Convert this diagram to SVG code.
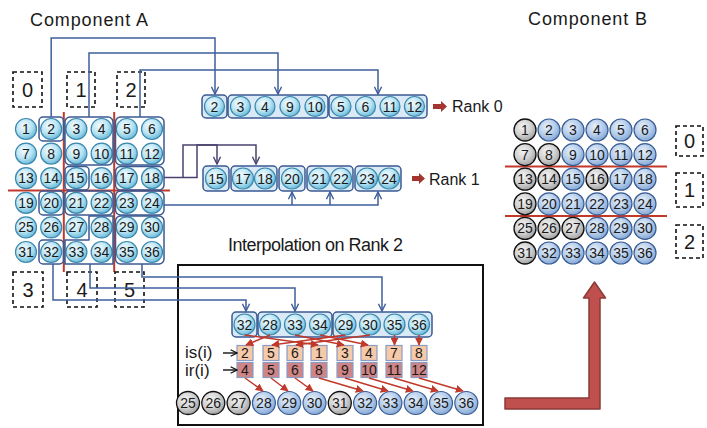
<svg xmlns="http://www.w3.org/2000/svg" width="707" height="428" viewBox="0 0 707 428">
<defs>
<radialGradient id="gA" cx="40%" cy="35%" r="70%"><stop offset="0" stop-color="#f4fcff"/><stop offset="0.55" stop-color="#b9e4f3"/><stop offset="1" stop-color="#5db4d5"/></radialGradient>
<radialGradient id="gB" cx="40%" cy="35%" r="70%"><stop offset="0" stop-color="#e8f0fa"/><stop offset="0.55" stop-color="#b5cdea"/><stop offset="1" stop-color="#7fa3d3"/></radialGradient>
<radialGradient id="gG" cx="40%" cy="35%" r="70%"><stop offset="0" stop-color="#f4f4f4"/><stop offset="0.55" stop-color="#d0d0d0"/><stop offset="1" stop-color="#9c9c9c"/></radialGradient>
<marker id="ab" viewBox="0 0 10 10" refX="9" refY="5" markerWidth="9" markerHeight="9" markerUnits="userSpaceOnUse" orient="auto"><path d="M1,1 L9,5 L1,9" fill="none" stroke="#3f5f9b" stroke-width="1.6"/></marker>
<marker id="ap" viewBox="0 0 10 10" refX="9" refY="5" markerWidth="9" markerHeight="9" markerUnits="userSpaceOnUse" orient="auto"><path d="M1,1 L9,5 L1,9" fill="none" stroke="#4a416f" stroke-width="1.6"/></marker>
<marker id="ar" viewBox="0 0 10 10" refX="9" refY="5" markerWidth="8" markerHeight="8" markerUnits="userSpaceOnUse" orient="auto"><path d="M0,0 L10,5 L0,10 z" fill="#c0392b"/></marker>
<marker id="ak" viewBox="0 0 10 10" refX="9" refY="5" markerWidth="8" markerHeight="8" markerUnits="userSpaceOnUse" orient="auto"><path d="M1,1 L9,5 L1,9" fill="none" stroke="#111" stroke-width="1.5"/></marker>
</defs>
<style>
text{font-family:"Liberation Sans",Arial,sans-serif;fill:#1a1a1a}
.title{font-size:18px}
.n text{font-size:14px;text-anchor:middle;dominant-baseline:central}
.na circle{fill:url(#gA);stroke:#3b87ad;stroke-width:1.2}
.nb circle{fill:url(#gB);stroke:#3a5d95;stroke-width:1.2}
.ng circle{fill:url(#gG);stroke:#111;stroke-width:1.3}
.grp{fill:none;stroke:#3a5a92;stroke-width:1.5}
.rgrp{fill:#d9e9f5;stroke:#3a5a92;stroke-width:1.5}
.dash{fill:none;stroke:#111;stroke-width:1.6;stroke-dasharray:4 3}
.dl{font-size:20px;text-anchor:middle;dominant-baseline:central}
.red{stroke:#c0392b;stroke-width:2;fill:none}
.cb{fill:none;stroke:#3f5f9b;stroke-width:1.5;marker-end:url(#ab)}
.cp{fill:none;stroke:#4a416f;stroke-width:1.5}
.cr{fill:none;stroke:#c0392b;stroke-width:1.5;marker-end:url(#ar)}
.sq text{font-size:14px;text-anchor:middle;dominant-baseline:central}
.is rect{fill:#f6c9a8;stroke:#8a9cc4;stroke-width:1.2}
.ir rect{fill:#cf8585;stroke:#8a9cc4;stroke-width:1.2}
</style>
<rect width="707" height="428" fill="#fff"/>

<!-- titles -->
<text class="title" x="30" y="26" textLength="118">Component A</text>
<text class="title" x="528" y="25" textLength="119">Component B</text>
<text class="title" x="228" y="251" textLength="175">Interpolation on Rank 2</text>

<!-- Component A decomposition -->
<g id="decompA">
<line class="red" x1="63.8" y1="112" x2="63.8" y2="272"/>
<line class="red" x1="114.2" y1="112" x2="114.2" y2="272"/>
<line class="red" x1="8" y1="190.5" x2="170" y2="190.5"/>
</g>
<g id="rA0"><rect class="dash" x="13" y="72" width="29" height="35"/><text class="dl" x="27.5" y="90">0</text></g>
<g id="rA1"><rect class="dash" x="67" y="72" width="28" height="35"/><text class="dl" x="81" y="90">1</text></g>
<g id="rA2"><rect class="dash" x="117" y="72" width="28" height="35"/><text class="dl" x="131" y="90">2</text></g>
<g id="rA3"><rect class="dash" x="13" y="272" width="30" height="35"/><text class="dl" x="28" y="290">3</text></g>
<g id="rA4"><rect class="dash" x="67" y="272" width="30" height="35"/><text class="dl" x="82" y="290">4</text></g>
<g id="rA5"><rect class="dash" x="115" y="272" width="29" height="35"/><text class="dl" x="129.5" y="290">5</text></g>

<!-- Component A circles -->
<g id="A1" class="n na"><circle cx="26" cy="129" r="10.5"/><text x="26" y="129">1</text></g>
<g id="A2" class="n na"><circle cx="51.2" cy="129" r="10.5"/><text x="51.2" y="129">2</text></g>
<g id="A3" class="n na"><circle cx="76.4" cy="129" r="10.5"/><text x="76.4" y="129">3</text></g>
<g id="A4" class="n na"><circle cx="101.6" cy="129" r="10.5"/><text x="101.6" y="129">4</text></g>
<g id="A5" class="n na"><circle cx="126.8" cy="129" r="10.5"/><text x="126.8" y="129">5</text></g>
<g id="A6" class="n na"><circle cx="152" cy="129" r="10.5"/><text x="152" y="129">6</text></g>
<g id="A7" class="n na"><circle cx="26" cy="153.6" r="10.5"/><text x="26" y="153.6">7</text></g>
<g id="A8" class="n na"><circle cx="51.2" cy="153.6" r="10.5"/><text x="51.2" y="153.6">8</text></g>
<g id="A9" class="n na"><circle cx="76.4" cy="153.6" r="10.5"/><text x="76.4" y="153.6">9</text></g>
<g id="A10" class="n na"><circle cx="101.6" cy="153.6" r="10.5"/><text x="101.6" y="153.6">10</text></g>
<g id="A11" class="n na"><circle cx="126.8" cy="153.6" r="10.5"/><text x="126.8" y="153.6">11</text></g>
<g id="A12" class="n na"><circle cx="152" cy="153.6" r="10.5"/><text x="152" y="153.6">12</text></g>
<g id="A13" class="n na"><circle cx="26" cy="178.2" r="10.5"/><text x="26" y="178.2">13</text></g>
<g id="A14" class="n na"><circle cx="51.2" cy="178.2" r="10.5"/><text x="51.2" y="178.2">14</text></g>
<g id="A15" class="n na"><circle cx="76.4" cy="178.2" r="10.5"/><text x="76.4" y="178.2">15</text></g>
<g id="A16" class="n na"><circle cx="101.6" cy="178.2" r="10.5"/><text x="101.6" y="178.2">16</text></g>
<g id="A17" class="n na"><circle cx="126.8" cy="178.2" r="10.5"/><text x="126.8" y="178.2">17</text></g>
<g id="A18" class="n na"><circle cx="152" cy="178.2" r="10.5"/><text x="152" y="178.2">18</text></g>
<g id="A19" class="n na"><circle cx="26" cy="202.8" r="10.5"/><text x="26" y="202.8">19</text></g>
<g id="A20" class="n na"><circle cx="51.2" cy="202.8" r="10.5"/><text x="51.2" y="202.8">20</text></g>
<g id="A21" class="n na"><circle cx="76.4" cy="202.8" r="10.5"/><text x="76.4" y="202.8">21</text></g>
<g id="A22" class="n na"><circle cx="101.6" cy="202.8" r="10.5"/><text x="101.6" y="202.8">22</text></g>
<g id="A23" class="n na"><circle cx="126.8" cy="202.8" r="10.5"/><text x="126.8" y="202.8">23</text></g>
<g id="A24" class="n na"><circle cx="152" cy="202.8" r="10.5"/><text x="152" y="202.8">24</text></g>
<g id="A25" class="n na"><circle cx="26" cy="227.4" r="10.5"/><text x="26" y="227.4">25</text></g>
<g id="A26" class="n na"><circle cx="51.2" cy="227.4" r="10.5"/><text x="51.2" y="227.4">26</text></g>
<g id="A27" class="n na"><circle cx="76.4" cy="227.4" r="10.5"/><text x="76.4" y="227.4">27</text></g>
<g id="A28" class="n na"><circle cx="101.6" cy="227.4" r="10.5"/><text x="101.6" y="227.4">28</text></g>
<g id="A29" class="n na"><circle cx="126.8" cy="227.4" r="10.5"/><text x="126.8" y="227.4">29</text></g>
<g id="A30" class="n na"><circle cx="152" cy="227.4" r="10.5"/><text x="152" y="227.4">30</text></g>
<g id="A31" class="n na"><circle cx="26" cy="252" r="10.5"/><text x="26" y="252">31</text></g>
<g id="A32" class="n na"><circle cx="51.2" cy="252" r="10.5"/><text x="51.2" y="252">32</text></g>
<g id="A33" class="n na"><circle cx="76.4" cy="252" r="10.5"/><text x="76.4" y="252">33</text></g>
<g id="A34" class="n na"><circle cx="101.6" cy="252" r="10.5"/><text x="101.6" y="252">34</text></g>
<g id="A35" class="n na"><circle cx="126.8" cy="252" r="10.5"/><text x="126.8" y="252">35</text></g>
<g id="A36" class="n na"><circle cx="152" cy="252" r="10.5"/><text x="152" y="252">36</text></g>

<!-- Component A send groups -->
<g id="sendGroupsA">
<rect class="grp" x="39" y="117" width="24.5" height="24" rx="4"/>
<rect class="grp" x="65" y="117" width="48" height="48" rx="5"/>
<rect class="grp" x="115.5" y="117" width="48.5" height="48" rx="5"/>
<rect class="grp" x="65" y="166.5" width="24" height="23.5" rx="4"/>
<rect class="grp" x="115.5" y="166.5" width="48.5" height="23.5" rx="5"/>
<rect class="grp" x="39" y="191" width="24.5" height="24" rx="4"/>
<rect class="grp" x="65" y="191" width="48" height="24" rx="5"/>
<rect class="grp" x="115.5" y="191" width="48.5" height="24" rx="5"/>
<path class="grp" d="M89,216 H113 V264 H65 V240 H89 Z" stroke-linejoin="round"/>
<rect class="grp" x="115.5" y="216" width="48.5" height="48" rx="5"/>
<rect class="grp" x="39" y="240" width="24.5" height="24" rx="4"/>
</g>

<!-- Rank 0 row -->
<g id="rank0">
<rect class="rgrp" x="202" y="95" width="25" height="23" rx="4"/>
<rect class="rgrp" x="228" y="95" width="100" height="23" rx="4"/>
<rect class="rgrp" x="329" y="95" width="98" height="23" rx="4"/>
</g>
<g id="R0_2" class="n na"><circle cx="214.5" cy="106.5" r="10"/><text x="214.5" y="106.5">2</text></g>
<g id="R0_3" class="n na"><circle cx="240.5" cy="106.5" r="10"/><text x="240.5" y="106.5">3</text></g>
<g id="R0_4" class="n na"><circle cx="265" cy="106.5" r="10"/><text x="265" y="106.5">4</text></g>
<g id="R0_9" class="n na"><circle cx="290" cy="106.5" r="10"/><text x="290" y="106.5">9</text></g>
<g id="R0_10" class="n na"><circle cx="315" cy="106.5" r="10"/><text x="315" y="106.5">10</text></g>
<g id="R0_5" class="n na"><circle cx="341" cy="106.5" r="10"/><text x="341" y="106.5">5</text></g>
<g id="R0_6" class="n na"><circle cx="365.5" cy="106.5" r="10"/><text x="365.5" y="106.5">6</text></g>
<g id="R0_11" class="n na"><circle cx="390" cy="106.5" r="10"/><text x="390" y="106.5">11</text></g>
<g id="R0_12" class="n na"><circle cx="414.5" cy="106.5" r="10"/><text x="414.5" y="106.5">12</text></g>
<g id="lab0"><polygon points="433,104 441,104 441,101 447,106.5 441,112 441,109 433,109" fill="#a3352e"/><text x="452" y="112" font-size="16">Rank 0</text></g>

<!-- Rank 1 row -->
<g id="rank1">
<rect class="rgrp" x="203" y="166" width="26" height="25" rx="4"/>
<rect class="rgrp" x="231" y="166" width="46" height="25" rx="4"/>
<rect class="rgrp" x="279" y="166" width="26" height="25" rx="4"/>
<rect class="rgrp" x="307" y="166" width="46" height="25" rx="4"/>
<rect class="rgrp" x="355" y="166" width="46" height="25" rx="4"/>
</g>
<g id="R1_15" class="n na"><circle cx="216" cy="178.5" r="10.5"/><text x="216" y="178.5">15</text></g>
<g id="R1_17" class="n na"><circle cx="243" cy="178.5" r="10.5"/><text x="243" y="178.5">17</text></g>
<g id="R1_18" class="n na"><circle cx="265" cy="178.5" r="10.5"/><text x="265" y="178.5">18</text></g>
<g id="R1_20" class="n na"><circle cx="292" cy="178.5" r="10.5"/><text x="292" y="178.5">20</text></g>
<g id="R1_21" class="n na"><circle cx="319" cy="178.5" r="10.5"/><text x="319" y="178.5">21</text></g>
<g id="R1_22" class="n na"><circle cx="341" cy="178.5" r="10.5"/><text x="341" y="178.5">22</text></g>
<g id="R1_23" class="n na"><circle cx="367" cy="178.5" r="10.5"/><text x="367" y="178.5">23</text></g>
<g id="R1_24" class="n na"><circle cx="389" cy="178.5" r="10.5"/><text x="389" y="178.5">24</text></g>
<g id="lab1"><polygon points="412,176 419,176 419,173 425,178.5 419,184 419,181 412,181" fill="#a3352e"/><text x="429" y="185" font-size="16">Rank 1</text></g>

<!-- Interpolation box -->
<g id="interpBox"><rect x="178" y="265" width="305" height="160" fill="none" stroke="#111" stroke-width="2"/></g>

<!-- Rank 2 row -->
<g id="rank2">
<rect class="rgrp" x="232" y="312" width="25" height="25" rx="4"/>
<rect class="rgrp" x="258" y="312" width="74" height="25" rx="4"/>
<rect class="rgrp" x="333" y="312" width="99" height="25" rx="4"/>
</g>
<g id="R2_32" class="n na"><circle cx="244.5" cy="324.5" r="10.5"/><text x="244.5" y="324.5">32</text></g>
<g id="R2_28" class="n na"><circle cx="270" cy="324.5" r="10.5"/><text x="270" y="324.5">28</text></g>
<g id="R2_33" class="n na"><circle cx="295" cy="324.5" r="10.5"/><text x="295" y="324.5">33</text></g>
<g id="R2_34" class="n na"><circle cx="320" cy="324.5" r="10.5"/><text x="320" y="324.5">34</text></g>
<g id="R2_29" class="n na"><circle cx="345.5" cy="324.5" r="10.5"/><text x="345.5" y="324.5">29</text></g>
<g id="R2_30" class="n na"><circle cx="370" cy="324.5" r="10.5"/><text x="370" y="324.5">30</text></g>
<g id="R2_35" class="n na"><circle cx="394.5" cy="324.5" r="10.5"/><text x="394.5" y="324.5">35</text></g>
<g id="R2_36" class="n na"><circle cx="419" cy="324.5" r="10.5"/><text x="419" y="324.5">36</text></g>

<!-- is / ir -->
<g id="labIs"><text x="185" y="358" font-size="17">is(i)</text></g>
<g id="labIr"><text x="185" y="376" font-size="17">ir(i)</text></g>
<g id="isRow" class="sq is">
<rect x="237" y="345.5" width="16" height="15"/><text x="245" y="353">2</text>
<rect x="263" y="345.5" width="16" height="15"/><text x="271" y="353">5</text>
<rect x="287" y="345.5" width="16" height="15"/><text x="295" y="353">6</text>
<rect x="311" y="345.5" width="16" height="15"/><text x="319" y="353">1</text>
<rect x="337" y="345.5" width="16" height="15"/><text x="345" y="353">3</text>
<rect x="361" y="345.5" width="16" height="15"/><text x="369" y="353">4</text>
<rect x="386" y="345.5" width="16" height="15"/><text x="394" y="353">7</text>
<rect x="411" y="345.5" width="16" height="15"/><text x="419" y="353">8</text>
</g>
<g id="irRow" class="sq ir">
<rect x="237" y="362.5" width="16" height="15"/><text x="245" y="370">4</text>
<rect x="263" y="362.5" width="16" height="15"/><text x="271" y="370">5</text>
<rect x="287" y="362.5" width="16" height="15"/><text x="295" y="370">6</text>
<rect x="311" y="362.5" width="16" height="15"/><text x="319" y="370">8</text>
<rect x="337" y="362.5" width="16" height="15"/><text x="345" y="370">9</text>
<rect x="361" y="362.5" width="16" height="15"/><text x="369" y="370">10</text>
<rect x="386" y="362.5" width="16" height="15"/><text x="394" y="370">11</text>
<rect x="411" y="362.5" width="16" height="15"/><text x="419" y="370">12</text>
</g>

<!-- bottom row of Component B rank 2 -->
<g id="P25" class="n ng"><circle cx="188" cy="403" r="11.5"/><text x="188" y="403">25</text></g>
<g id="P26" class="n ng"><circle cx="213.3" cy="403" r="11.5"/><text x="213.3" y="403">26</text></g>
<g id="P27" class="n ng"><circle cx="238.6" cy="403" r="11.5"/><text x="238.6" y="403">27</text></g>
<g id="P28" class="n nb"><circle cx="263.9" cy="403" r="11.5"/><text x="263.9" y="403">28</text></g>
<g id="P29" class="n nb"><circle cx="289.2" cy="403" r="11.5"/><text x="289.2" y="403">29</text></g>
<g id="P30" class="n nb"><circle cx="314.5" cy="403" r="11.5"/><text x="314.5" y="403">30</text></g>
<g id="P31" class="n ng"><circle cx="339.8" cy="403" r="11.5"/><text x="339.8" y="403">31</text></g>
<g id="P32" class="n nb"><circle cx="365.1" cy="403" r="11.5"/><text x="365.1" y="403">32</text></g>
<g id="P33" class="n nb"><circle cx="390.4" cy="403" r="11.5"/><text x="390.4" y="403">33</text></g>
<g id="P34" class="n nb"><circle cx="415.7" cy="403" r="11.5"/><text x="415.7" y="403">34</text></g>
<g id="P35" class="n nb"><circle cx="441" cy="403" r="11.5"/><text x="441" y="403">35</text></g>
<g id="P36" class="n nb"><circle cx="466.3" cy="403" r="11.5"/><text x="466.3" y="403">36</text></g>

<!-- Component B -->
<g id="decompB">
<line class="red" x1="505" y1="166.5" x2="667" y2="166.5"/>
<line class="red" x1="505" y1="216" x2="667" y2="216"/>
</g>
<g id="rB0"><rect class="dash" x="676" y="126" width="27" height="30"/><text class="dl" x="689.5" y="141">0</text></g>
<g id="rB1"><rect class="dash" x="676" y="173" width="27" height="34"/><text class="dl" x="689.5" y="190">1</text></g>
<g id="rB2"><rect class="dash" x="676" y="225" width="27" height="33"/><text class="dl" x="689.5" y="241.5">2</text></g>

<g id="B1" class="n ng"><circle cx="525" cy="130" r="11"/><text x="525" y="130">1</text></g>
<g id="B2" class="n nb"><circle cx="549" cy="130" r="11"/><text x="549" y="130">2</text></g>
<g id="B3" class="n nb"><circle cx="573" cy="130" r="11"/><text x="573" y="130">3</text></g>
<g id="B4" class="n nb"><circle cx="597" cy="130" r="11"/><text x="597" y="130">4</text></g>
<g id="B5" class="n nb"><circle cx="621" cy="130" r="11"/><text x="621" y="130">5</text></g>
<g id="B6" class="n nb"><circle cx="645" cy="130" r="11"/><text x="645" y="130">6</text></g>
<g id="B7" class="n ng"><circle cx="525" cy="154.6" r="11"/><text x="525" y="154.6">7</text></g>
<g id="B8" class="n ng"><circle cx="549" cy="154.6" r="11"/><text x="549" y="154.6">8</text></g>
<g id="B9" class="n nb"><circle cx="573" cy="154.6" r="11"/><text x="573" y="154.6">9</text></g>
<g id="B10" class="n nb"><circle cx="597" cy="154.6" r="11"/><text x="597" y="154.6">10</text></g>
<g id="B11" class="n nb"><circle cx="621" cy="154.6" r="11"/><text x="621" y="154.6">11</text></g>
<g id="B12" class="n nb"><circle cx="645" cy="154.6" r="11"/><text x="645" y="154.6">12</text></g>
<g id="B13" class="n ng"><circle cx="525" cy="179.2" r="11"/><text x="525" y="179.2">13</text></g>
<g id="B14" class="n ng"><circle cx="549" cy="179.2" r="11"/><text x="549" y="179.2">14</text></g>
<g id="B15" class="n nb"><circle cx="573" cy="179.2" r="11"/><text x="573" y="179.2">15</text></g>
<g id="B16" class="n ng"><circle cx="597" cy="179.2" r="11"/><text x="597" y="179.2">16</text></g>
<g id="B17" class="n nb"><circle cx="621" cy="179.2" r="11"/><text x="621" y="179.2">17</text></g>
<g id="B18" class="n nb"><circle cx="645" cy="179.2" r="11"/><text x="645" y="179.2">18</text></g>
<g id="B19" class="n ng"><circle cx="525" cy="203.8" r="11"/><text x="525" y="203.8">19</text></g>
<g id="B20" class="n nb"><circle cx="549" cy="203.8" r="11"/><text x="549" y="203.8">20</text></g>
<g id="B21" class="n nb"><circle cx="573" cy="203.8" r="11"/><text x="573" y="203.8">21</text></g>
<g id="B22" class="n nb"><circle cx="597" cy="203.8" r="11"/><text x="597" y="203.8">22</text></g>
<g id="B23" class="n nb"><circle cx="621" cy="203.8" r="11"/><text x="621" y="203.8">23</text></g>
<g id="B24" class="n nb"><circle cx="645" cy="203.8" r="11"/><text x="645" y="203.8">24</text></g>
<g id="B25" class="n ng"><circle cx="525" cy="228.4" r="11"/><text x="525" y="228.4">25</text></g>
<g id="B26" class="n ng"><circle cx="549" cy="228.4" r="11"/><text x="549" y="228.4">26</text></g>
<g id="B27" class="n ng"><circle cx="573" cy="228.4" r="11"/><text x="573" y="228.4">27</text></g>
<g id="B28" class="n nb"><circle cx="597" cy="228.4" r="11"/><text x="597" y="228.4">28</text></g>
<g id="B29" class="n nb"><circle cx="621" cy="228.4" r="11"/><text x="621" y="228.4">29</text></g>
<g id="B30" class="n nb"><circle cx="645" cy="228.4" r="11"/><text x="645" y="228.4">30</text></g>
<g id="B31" class="n ng"><circle cx="525" cy="253" r="11"/><text x="525" y="253">31</text></g>
<g id="B32" class="n nb"><circle cx="549" cy="253" r="11"/><text x="549" y="253">32</text></g>
<g id="B33" class="n nb"><circle cx="573" cy="253" r="11"/><text x="573" y="253">33</text></g>
<g id="B34" class="n nb"><circle cx="597" cy="253" r="11"/><text x="597" y="253">34</text></g>
<g id="B35" class="n nb"><circle cx="621" cy="253" r="11"/><text x="621" y="253">35</text></g>
<g id="B36" class="n nb"><circle cx="645" cy="253" r="11"/><text x="645" y="253">36</text></g>

<!-- big arrow -->
<g id="bigArrow"><polygon points="505,398 589,398 589,298 583.5,298 594.5,282 605.5,298 600,298 600,409 505,409" fill="#c0504d" stroke="#8b3a38" stroke-width="1.5" stroke-linejoin="round"/></g>

<!-- connectors -->
<g id="connectors">
<path class="cb" d="M51.2,117 V38 H215 V94"/>
<path class="cb" d="M89,117 V53 H278 V94"/>
<path class="cb" d="M140,117 V70 H378 V94"/>
<path class="cp" d="M164,177.5 H197 V145 H217 V164" marker-end="url(#ap)"/>
<path class="cp" d="M183,177.5 V145 H256 V164" marker-end="url(#ap)"/>
<path class="cb" d="M164,205 H378 V192"/>
<path class="cb" d="M292,205 V192"/>
<path class="cb" d="M330,205 V192"/>
<path class="cb" d="M53,264 V300 H246 V311"/>
<path class="cb" d="M90,264 V288 H295 V311"/>
<path class="cb" d="M142,264 V277 H382 V311"/>
<line class="cr" x1="270" y1="335" x2="246" y2="345"/>
<line class="cr" x1="345.5" y1="335" x2="272" y2="345"/>
<line class="cr" x1="370" y1="335" x2="296" y2="345"/>
<line class="cr" x1="244.5" y1="335" x2="318" y2="345"/>
<line class="cr" x1="295" y1="335" x2="344" y2="345"/>
<line class="cr" x1="320" y1="335" x2="368" y2="345"/>
<line class="cr" x1="394.5" y1="335" x2="394.5" y2="345"/>
<line class="cr" x1="419" y1="335" x2="419" y2="345"/>
<line class="cr" x1="245" y1="378" x2="263" y2="391"/>
<line class="cr" x1="271" y1="378" x2="288" y2="391"/>
<line class="cr" x1="295" y1="378" x2="313" y2="391"/>
<line class="cr" x1="319" y1="378" x2="363" y2="391"/>
<line class="cr" x1="345" y1="378" x2="388" y2="391"/>
<line class="cr" x1="369" y1="378" x2="413" y2="391"/>
<line class="cr" x1="394" y1="378" x2="438" y2="391"/>
<line class="cr" x1="419" y1="378" x2="463" y2="391"/>
<line x1="223" y1="353" x2="237" y2="353" stroke="#111" stroke-width="1.4" marker-end="url(#ak)"/>
<line x1="223" y1="370" x2="237" y2="370" stroke="#111" stroke-width="1.4" marker-end="url(#ak)"/>
</g>
</svg>
